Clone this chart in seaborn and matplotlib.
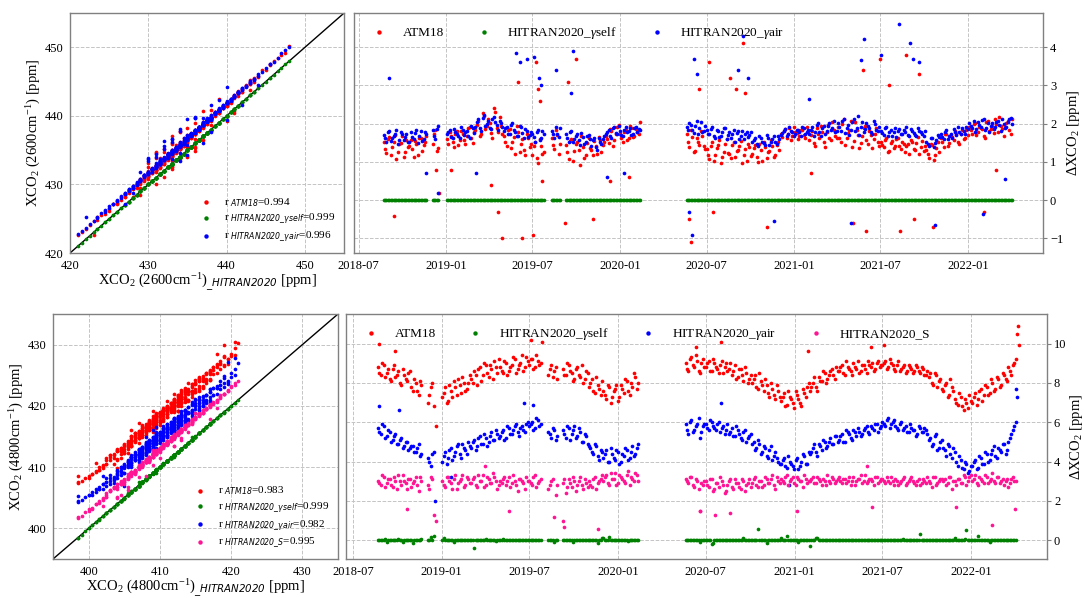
import numpy as np
import pandas as pd
import matplotlib
matplotlib.use("Agg")
import matplotlib.pyplot as plt
import matplotlib.dates as mdates
import seaborn as sns


def arr(s):
    return np.array([float(t) for t in s.split()])


# ====================== data ======================
# observation days, batch A (days since 2018-08-20)
obs_days_a = [2, 8, 14, 20, 26, 32, 38, 44, 50, 56, 62, 68, 74, 80, 86, 92,
              105, 111, 117,
              135, 141, 147, 153, 159, 165, 171, 177, 183, 189, 195, 201, 207, 213, 219, 225, 231, 237,
              243, 249, 255, 261, 267, 273, 279, 285, 291, 297, 303, 309, 315, 321, 327, 333, 339,
              355, 361, 367, 373,
              385, 391, 397, 403, 409, 415, 421, 427, 433, 439, 445, 451, 457, 463, 469, 475, 481, 487,
              493, 499, 505, 511, 517, 523, 529, 535, 541,
              639, 645, 651, 657, 663, 669, 675, 681, 687, 693, 699, 705, 711, 717, 723, 729, 735, 741,
              747, 753, 759, 765, 771, 777, 783, 789, 795, 801, 807, 813, 819, 825, 831, 837, 843, 849,
              855, 861, 867, 873, 879, 885, 891, 897, 903, 909, 915, 921, 927, 933, 939, 945, 951, 957,
              963, 969, 975, 981, 987, 993, 999, 1005, 1011, 1017, 1023, 1029, 1035, 1041, 1047, 1053,
              1059, 1065, 1071, 1077, 1083, 1089, 1095, 1101, 1107, 1113, 1119, 1125, 1131, 1137, 1143,
              1149, 1155, 1161, 1167, 1173, 1179, 1185, 1191, 1197, 1203, 1209, 1215, 1221, 1227, 1233,
              1239, 1245, 1251, 1257, 1263, 1269, 1275, 1281, 1287, 1293, 1299, 1305, 1311, 1317, 1323]
# observation days, batch B
obs_days_b = [5, 11, 17, 23, 29, 35, 41, 47, 53, 59, 65, 71, 77, 83, 89,
              108, 114,
              138, 144, 150, 156, 162, 168, 174, 180, 186, 192, 198, 204, 210, 216, 222, 228, 234, 240,
              246, 252, 258, 264, 270, 276, 282, 288, 294, 300, 306, 312, 318, 324, 330, 336,
              358, 364, 370,
              388, 394, 400, 406, 412, 418, 424, 430, 436, 442, 448, 454, 460, 466, 472, 478, 484, 490,
              496, 502, 508, 514, 520, 526, 532, 538,
              642, 648, 654, 660, 666, 672, 678, 684, 690, 696, 702, 708, 714, 720, 726, 732, 738, 744,
              750, 756, 762, 768, 774, 780, 786, 792, 798, 804, 810, 816, 822, 828, 834, 840, 846, 852,
              858, 864, 870, 876, 882, 888, 894, 900, 906, 912, 918, 924, 930, 936, 942, 948, 954, 960,
              966, 972, 978, 984, 990, 996, 1002, 1008, 1014, 1020, 1026, 1032, 1038, 1044, 1050, 1056,
              1062, 1068, 1074, 1080, 1086, 1092, 1098, 1104, 1110, 1116, 1122, 1128, 1134, 1140, 1146,
              1152, 1158, 1164, 1170, 1176, 1182, 1188, 1194, 1200, 1206, 1212, 1218, 1224, 1230, 1236,
              1242, 1248, 1254, 1260, 1266, 1272, 1278, 1284, 1290, 1296, 1302, 1308, 1314, 1320]

# ---- 2600 cm-1 : XCO2 retrieved with HITRAN2020 [ppm]
xco2_2600_hitran_a = arr("""
422.0 424.5 421.0 425.0 423.5 426.5 424.0 427.0 425.5 428.0 426.0 427.5 429.0 426.5 428.5 430.0
428.0 431.0 429.5
429.0 431.5 428.0 430.5 432.0 429.5 431.0 433.0 430.0 432.5
431.5 434.0 430.5 434.5 432.0 435.5 431.0 433.5 436.5 432.5
435.0 432.0 436.0 431.5 434.0 437.0 432.5 434.5 430.5 433.0
431.0 434.0 429.5 432.5 430.5
429.0 431.5 428.0 430.5
428.5 431.0 427.5 430.0 432.0 428.5 430.5 433.0 429.5
431.5 434.0 430.5 432.5 435.0
433.0 435.5 432.0 434.5 437.0 433.5 436.0 432.5 437.5 435.0 434.0 436.5 438.5
438.0 435.5 439.5 436.5 435.0 437.5 434.0
435.5 433.0 436.5 434.0 431.5 435.0 432.5 431.0 434.0 432.0 434.5 430.5 433.0 430.0 432.0 433.5
432.5 435.0 431.5 434.0 436.0 433.0 434.5 437.0 433.5 435.5
435.0 437.5 434.0 436.5 438.5 435.5 438.0 434.5 437.0 439.5
436.5 439.0 436.0 440.5 437.5 440.0 437.0 441.5 438.5 441.0
439.5 442.0 438.0 440.5 442.5 439.0 441.0 437.5 440.0 441.5 437.0 438.5 440.5 436.0 438.0
436.5 439.0 435.0 437.5 435.5 434.0 436.5 434.5 433.0 436.0 433.5 437.0 435.0 432.5 435.5 434.0
436.0 433.5 437.5 435.0 436.5
438.0 435.5 439.0 436.5 439.5 437.5 440.5 437.0 439.0 441.5
440.0 437.5 441.5 439.0 442.5 440.0 443.5 440.5 442.0 444.5 441.0 443.0 445.0 446.0 447.0 448.0
""")
xco2_2600_hitran_b = arr("""
423.5 421.5 426.0 422.5 425.0 427.5 423.0 426.0 428.5 424.5 427.0 429.5 425.5 428.0 427.0
430.5 427.5
430.0 427.5 432.5 429.0 431.5 428.5 433.5 430.5 432.0 434.0
433.0 430.0 435.0 432.5 437.0 433.5 431.5 436.0 434.0 437.5
433.5 436.5 433.0 435.5 438.0 431.5 435.5 432.0 434.0 431.5
432.5 430.0 433.5 431.0
430.0 432.5 429.5
429.5 427.0 431.5 429.0 433.5 431.0 429.0 431.5 434.0
430.0 433.0 435.5 431.5 433.5
434.0 436.5 431.5 435.5 433.0 438.0 434.5 436.5 433.5 439.0 435.5 437.5
436.5 440.0 434.0 437.5 439.0 433.5 436.0
434.0 437.0 432.0 435.5 433.5 430.5 433.0 434.5 431.0 435.0 433.0 429.0 431.5 434.0 429.5 431.0
434.0 431.0 436.5 433.0 435.0 432.0 436.5 434.5 438.0 432.5
436.5 433.5 439.0 435.5 437.0 440.0 436.5 439.0 433.5 436.0
438.0 435.5 441.0 437.0 439.5 436.0 442.5 439.0 437.5 440.0
441.0 438.5 443.5 439.5 437.0 442.0 440.0 436.5 443.0 438.5 440.0 436.5 439.5 437.5 441.5
438.0 435.5 437.0 433.0 436.5 438.0 432.5 435.0 437.5 434.0 432.0 435.5 436.5 433.5 437.0 432.5
434.5 437.0 432.5 435.5 438.0
436.5 439.5 434.5 437.5 440.5 436.0 438.5 441.0 437.0 440.0
441.5 438.5 443.0 440.5 439.0 444.0 441.5 443.5 442.0 445.5 443.0 444.0 446.5 445.5 447.5
""")

# ---- 2600 cm-1 : dXCO2 = XCO2(other spectroscopy) - XCO2(HITRAN2020) [ppm]
d2600_atm18_a = arr("""
1.52 1.23 1.64 1.38 1.71 1.27 1.49 1.12 1.58 1.41 1.33 1.55 1.18 1.62 1.44 1.69
1.47 1.83 1.36
1.61 1.78 1.52 1.73 1.43 1.81 1.57 1.68 1.92 1.49
1.84 2.08 1.72 2.21 1.93 2.02 1.63 2.31 1.79 1.94
1.68 1.42 1.87 1.53 1.21 1.79 1.48 1.32 1.74 1.39
1.18 1.53 0.97 1.41 1.27
1.62 1.34 1.71 1.48
1.43 1.08 1.61 1.29 1.52 0.93 1.38 1.17 1.63
1.32 1.54 1.21 1.58 1.43
1.68 1.49 1.82 1.57 1.91 1.72 1.53 1.84 1.62 1.88 1.69 1.78 2.03
1.72 1.38 1.64 1.29 1.53 1.81 1.42
1.33 1.08 1.52 1.19 1.43 0.98 1.27 1.61 1.22 1.44 1.12 1.31 1.54 1.17 1.02 1.38
1.21 1.43 0.99 1.32 1.51 1.09 1.28 1.42 1.18 1.53
1.72 1.81 1.63 1.88 1.69 1.79 1.61 1.83 1.71 1.92
1.58 1.82 1.41 1.73 1.93 1.52 1.78 1.62 2.04 1.69
1.91 1.52 2.12 1.63 1.84 1.38 2.03 1.71 1.49 1.89 1.58 1.81 1.37 1.72 1.53
1.52 1.38 1.63 1.29 1.54 1.41 1.62 1.33 1.48 1.42 1.21 1.53 1.31 1.64 1.39 1.28
1.32 1.09 1.43 1.18 1.51
1.62 1.38 1.73 1.49 1.64 1.81 1.52 1.72 1.59 1.83
1.91 1.72 2.02 1.79 1.88 1.68 2.04 1.82 1.93 2.12 1.78 1.94 1.69 2.01 1.83 2.13
""")
d2600_atm18_b = arr("""
1.34 1.61 1.19 1.52 1.08 1.46 1.67 1.25 1.39 1.57 1.14 1.48 1.63 1.29 1.51
1.72 1.28
1.48 1.69 1.38 1.82 1.58 1.74 1.46 1.88 1.63 1.77
1.97 1.68 2.27 1.85 2.13 1.76 2.41 1.89 2.17 1.72
1.51 1.83 1.36 1.66 1.93 1.27 1.59 1.18 1.62 1.47
1.42 1.09 1.61 1.22
1.44 1.83 1.21
1.27 1.54 1.02 1.47 1.31 1.69 1.11 1.49 1.36
1.18 1.42 1.64 1.27 1.51
1.61 1.87 1.42 1.74 1.96 1.63 1.79 1.58 1.93 1.66 1.86 1.74
1.51 1.83 1.27 1.62 1.43 1.68 1.33
1.18 1.42 1.03 1.36 1.57 1.13 1.46 1.24 1.09 1.52 1.28 1.41 0.96 1.34 1.48 1.16
1.36 1.12 1.47 1.03 1.39 1.26 1.58 1.14 1.44 1.31
1.64 1.86 1.73 1.58 1.91 1.76 1.67 1.84 1.62 1.79
1.71 1.49 1.89 1.62 1.77 1.38 1.97 1.56 1.84 1.63
1.62 1.98 1.43 1.76 2.08 1.54 1.83 1.36 1.67 1.94 1.48 1.71 1.59 1.88 1.42
1.43 1.58 1.26 1.49 1.37 1.61 1.42 1.53 1.27 1.46 1.58 1.34 1.49 1.22 1.55 1.41
1.21 1.46 1.04 1.37 1.26
1.53 1.74 1.42 1.68 1.57 1.73 1.48 1.84 1.63 1.71
1.84 1.98 1.71 1.92 1.86 1.62 2.06 1.87 1.76 1.99 2.17 1.86 1.92 2.08 1.74
""")
d2600_yair_a = arr("""
1.71 1.53 1.82 1.62 1.74 1.48 1.79 1.57 1.72 1.51 1.64 1.76 1.49 1.81 1.59 1.73
1.84 1.61 1.93
1.72 1.83 1.63 1.79 1.68 1.91 1.71 1.82 1.62 1.88
1.92 2.13 1.81 2.22 1.98 1.89 2.11 2.03 1.83 2.02
1.81 1.92 1.72 2.01 1.79 1.68 1.91 1.63 1.82 1.71
1.72 1.51 1.83 1.62 1.74
1.81 1.63 1.72 1.88
1.73 1.52 1.81 1.61 1.72 1.43 1.64 1.52 1.71
1.42 1.63 1.31 1.52 1.61
1.72 1.83 1.62 1.91 1.74 1.82 1.69 1.92 1.81 1.71 1.88 1.79 1.83
1.91 2.02 1.83 1.93 1.74 2.04 1.82
1.83 1.72 1.91 1.62 1.81 1.69 1.89 1.61 1.79 1.72 1.53 1.82 1.68 1.59 1.78 1.71
1.52 1.63 1.41 1.62 1.49 1.71 1.43 1.61 1.52 1.69
1.71 1.82 1.69 1.91 1.78 1.72 1.83 1.69 1.88 1.79
1.72 1.91 1.79 2.02 1.68 1.93 1.81 2.01 1.89 1.79
2.02 1.81 2.12 1.89 1.71 2.03 1.82 2.21 1.91 1.79 2.02 1.88 1.72 1.98 1.81
1.82 1.71 1.92 1.79 1.68 1.89 1.81 1.72 1.83 1.91 1.69 1.82 1.71 1.88 1.79 1.69
1.52 1.41 1.63 1.49 1.71
1.72 1.61 1.83 1.69 1.62 1.79 1.91 1.72 1.81 1.92
2.01 1.89 1.79 2.03 1.91 2.12 1.88 1.79 2.02 1.91 2.08 1.82 1.99 1.92 2.11 1.98
""")
d2600_yair_b = arr("""
1.62 1.78 1.54 1.69 1.83 1.58 1.74 1.66 1.52 1.79 1.61 1.84 1.68 1.55 1.77
1.69 1.87
1.78 1.66 1.86 1.74 1.62 1.84 1.77 1.69 1.93 1.76
2.04 1.88 2.16 1.94 2.08 1.86 2.18 1.97 2.06 1.91
1.88 1.74 1.97 1.83 1.69 1.94 1.76 1.87 1.66 1.79
1.64 1.79 1.58 1.81
1.74 1.92 1.66
1.62 1.78 1.51 1.69 1.58 1.76 1.47 1.68 1.59
1.56 1.38 1.62 1.47 1.69
1.78 1.69 1.88 1.76 1.93 1.71 1.84 1.77 1.89 1.74 1.91 1.86
1.84 1.97 1.76 2.08 1.88 1.79 1.94
1.74 1.86 1.68 1.83 1.64 1.77 1.88 1.71 1.63 1.84 1.76 1.59 1.81 1.73 1.66 1.79
1.58 1.47 1.67 1.53 1.44 1.62 1.51 1.68 1.46 1.59
1.76 1.87 1.73 1.81 1.69 1.84 1.78 1.91 1.74 1.83
1.83 1.69 1.96 1.77 1.88 1.74 1.93 1.84 2.06 1.81
1.92 2.07 1.76 1.96 1.84 2.13 1.88 1.71 2.04 1.86 1.94 1.77 2.08 1.83 1.92
1.76 1.88 1.69 1.84 1.78 1.66 1.87 1.74 1.79 1.71 1.86 1.76 1.68 1.82 1.74 1.81
1.46 1.62 1.39 1.57 1.64
1.66 1.78 1.59 1.74 1.86 1.71 1.79 1.88 1.74 1.86
1.94 2.06 1.86 1.97 2.09 1.84 2.02 1.93 1.87 2.04 1.96 2.12 1.89 2.03 2.14
""")
d2600_yself_a = arr("""
0 0 0 0 0 0 0 0 0 0 0 0 0 0 0 0 0 0 0 0
0 0 0 0 0 0 0 0 0 0 0 0 0 0 0 0 0 0 0 0
0 0 0 0 0 0 0 0 0 0 0 0 0 0 0 0 0 0 0 0
0 0 0 0 0 0 0 0 0 0 0 0 0 0 0 0 0 0 0 0
0 0 0 0 0 0 0 0 0 0 0 0 0 0 0 0 0 0 0 0
0 0 0 0 0 0 0 0 0 0 0 0 0 0 0 0 0 0 0 0
0 0 0 0 0 0 0 0 0 0 0 0 0 0 0 0 0 0 0 0
0 0 0 0 0 0 0 0 0 0 0 0 0 0 0 0 0 0 0 0
0 0 0 0 0 0 0 0 0 0 0 0 0 0 0 0 0 0 0 0
0 0 0 0 0 0 0 0 0 0 0 0 0 0 0 0 0 0 0 0
""")
d2600_yself_b = arr("""
0 0 0 0 0 0 0 0 0 0 0 0 0 0 0 0 0 0 0 0
0 0 0 0 0 0 0 0 0 0 0 0 0 0 0 0 0 0 0 0
0 0 0 0 0 0 0 0 0 0 0 0 0 0 0 0 0 0 0 0
0 0 0 0 0 0 0 0 0 0 0 0 0 0 0 0 0 0 0 0
0 0 0 0 0 0 0 0 0 0 0 0 0 0 0 0 0 0 0 0
0 0 0 0 0 0 0 0 0 0 0 0 0 0 0 0 0 0 0 0
0 0 0 0 0 0 0 0 0 0 0 0 0 0 0 0 0 0 0 0
0 0 0 0 0 0 0 0 0 0 0 0 0 0 0 0 0 0 0 0
0 0 0 0 0 0 0 0 0 0 0 0 0 0 0 0 0 0 0 0
0 0 0 0 0 0 0 0 0 0 0 0 0 0
""")

# ---- 2600 cm-1 outliers (date, dXCO2, XCO2 HITRAN2020)
out2600_atm18_dates = ["2018-09-12", "2018-12-10", "2018-12-16", "2019-01-10", "2019-04-05", "2019-04-20",
                       "2019-04-28", "2019-06-01", "2019-06-10", "2019-07-02", "2019-07-08", "2019-07-12",
                       "2019-07-16", "2019-07-20", "2019-09-08", "2019-09-14", "2019-10-01", "2019-11-05",
                       "2019-12-10", "2020-01-20", "2020-05-25", "2020-05-29", "2020-06-15", "2020-07-05",
                       "2020-07-15", "2020-08-20", "2020-09-01", "2020-09-15", "2020-09-20", "2020-11-05",
                       "2021-02-05", "2021-05-05", "2021-05-25", "2021-06-01", "2021-07-01", "2021-07-20",
                       "2021-08-12", "2021-08-25", "2021-09-10", "2021-09-20", "2021-10-20", "2022-02-05",
                       "2022-03-01"]
out2600_atm18 = [-0.4, 0.8, 0.2, 0.8, 0.4, -0.3, -1.0, 3.1, -1.0, -0.9, 3.6, 2.9, 2.6, 0.5, -0.6, 3.1,
                 3.7, -0.5, 0.5, 0.6, -0.5, -1.1, 2.9, 3.6, -0.3, 3.2, 2.9, 4.1, 2.8, -0.7, 0.7, -0.6,
                 3.4, -0.8, 3.7, 3.0, -0.8, 3.8, -0.5, 3.3, -0.7, -0.3, 0.8]
out2600_atm18_base = [423, 430, 428, 431, 433, 434, 435, 433, 431, 432, 431, 433, 430, 429, 429, 430,
                      431, 433, 435, 436, 437, 436, 438, 434, 433, 432, 431, 433, 432, 433, 438, 441,
                      439, 440, 437, 436, 435, 434, 436, 435, 436, 441, 443]
out2600_yair_dates = ["2018-09-02", "2018-11-20", "2018-12-15", "2019-03-05", "2019-05-28", "2019-06-05",
                      "2019-06-20", "2019-07-05", "2019-07-14", "2019-07-18", "2019-08-20", "2019-09-20",
                      "2019-09-25", "2019-12-05", "2020-01-10", "2020-05-25", "2020-05-31", "2020-06-05",
                      "2020-06-10", "2020-09-05", "2020-09-15", "2020-09-25", "2020-11-20", "2021-02-01",
                      "2021-05-01", "2021-05-22", "2021-05-28", "2021-07-03", "2021-08-10", "2021-09-01",
                      "2021-09-08", "2021-09-20", "2021-10-25", "2022-02-02", "2022-03-20"]
out2600_yair = [3.2, 0.7, 0.2, 0.7, 3.85, 3.6, 3.7, 3.75, 3.2, 3.0, 3.4, 2.8, 3.9, 0.6, 0.7, -0.3, -0.9,
                3.7, 3.3, 3.4, 4.3, 3.2, -0.55, 2.65, -0.6, 3.65, 4.2, 3.8, 4.6, 4.1, 3.7, 3.6, -0.65,
                -0.35, 0.55]
out2600_yair_base = [422, 428, 427, 433, 434, 432, 433, 430, 432, 431, 430, 429, 430, 434, 435, 438, 437,
                     436, 439, 431, 432, 433, 434, 437, 440, 438, 440, 436, 435, 434, 436, 433, 435,
                     442, 444]

# ---- 4800 cm-1 : XCO2 retrieved with HITRAN2020 [ppm]
xco2_4800_hitran_a = arr("""
399.0 400.5 398.5 401.5 400.0 402.5 401.0 403.5 402.0 404.5 401.5 403.0 405.0 402.5 404.0 406.0
404.5 407.0 405.5
405.0 407.5 404.0 406.5 408.0 405.5 407.0 409.0 406.0 408.5
407.5 409.5 406.5 410.0 408.0 411.0 407.0 409.0 412.0 408.5
410.5 408.0 411.5 407.5 409.5 412.5 408.5 410.0 406.5 409.0
407.0 409.5 405.5 408.0 406.5
405.0 407.5 404.0 406.0
404.5 406.5 403.0 405.5 407.5 404.0 406.0 408.5 405.0
407.0 409.5 406.0 408.0 410.5
408.5 411.0 407.5 410.0 412.5 409.0 411.5 408.0 413.0 410.5 409.5 412.0 414.0
413.5 411.0 415.0 412.0 410.5 413.0 409.5
411.0 408.5 412.0 409.5 407.0 410.5 408.0 406.5 409.5 407.5 410.0 406.0 408.5 405.5 407.5 409.0
408.0 410.5 407.0 409.5 411.5 408.5 410.0 412.5 409.0 411.0
410.5 413.0 409.5 412.0 414.0 411.0 413.5 410.0 412.5 415.0
412.0 414.5 411.5 416.0 413.0 415.5 412.5 417.0 414.0 416.5
415.0 417.5 413.5 416.0 418.0 414.5 416.5 413.0 415.5 417.0 412.5 414.0 416.0 411.5 413.5
412.0 414.5 410.5 413.0 411.0 409.5 412.0 410.0 408.5 411.5 409.0 412.5 410.5 408.0 411.0 409.5
411.5 409.0 413.0 410.5 412.0
413.5 411.0 414.5 412.0 415.0 413.0 416.0 412.5 414.5 417.0
415.5 413.0 417.0 414.5 418.0 415.5 419.0 416.0 417.5 420.0 416.5 418.5 419.5 417.0 420.5 421.0
""")
xco2_4800_hitran_b = arr("""
400.0 398.5 402.0 399.5 401.5 403.0 400.5 402.5 404.0 401.0 403.5 405.5 402.0 404.5 403.0
406.0 403.5
406.0 403.5 408.5 405.0 407.5 404.5 409.5 406.5 408.0 410.0
409.0 406.0 411.0 408.5 412.5 409.5 407.5 411.5 410.0 413.0
409.0 412.0 408.5 411.0 413.5 407.0 410.5 407.5 409.5 406.0
408.5 406.0 409.5 407.0
406.5 408.5 405.0
405.5 402.5 407.0 404.5 408.5 406.0 404.0 407.0 409.0
405.5 408.5 411.0 407.0 409.0
409.5 412.0 407.0 411.0 408.5 413.5 410.0 412.0 409.0 414.5 411.0 413.0
412.0 415.5 410.0 413.5 414.5 409.0 411.5
410.0 413.0 407.5 411.0 409.0 406.0 408.5 410.5 406.5 410.5 408.5 404.5 407.0 410.0 405.0 406.5
409.5 406.5 412.0 408.5 410.5 407.5 412.0 410.0 413.5 408.0
412.0 409.0 414.5 411.0 412.5 415.5 412.0 414.5 409.0 411.5
413.5 411.0 416.5 412.5 415.0 411.5 418.0 414.5 413.0 415.5
416.5 414.0 419.0 415.0 412.5 417.5 415.5 412.0 418.5 414.0 415.5 412.0 415.0 413.0 417.0
413.5 411.0 412.5 408.5 412.0 413.5 408.0 410.5 413.0 409.5 407.5 411.0 412.0 409.0 412.5 408.0
410.0 412.5 408.0 411.0 413.5
412.0 415.0 410.0 413.0 416.0 411.5 414.0 416.5 412.5 415.5
417.0 414.0 418.5 416.0 414.5 419.5 417.0 419.0 417.5 420.5 418.5 419.5 418.0 420.0 419.0
""")

d4800_atm18_a = arr("""
8.8 8.4 8.9 8.5 8.2 8.7 8.3 8.6 7.9 8.4 8.1 8.6 7.6 8.0 7.4 7.9
7.0 7.8 6.8
7.3 7.8 7.1 7.6 8.1 7.4 7.9 8.3 7.6 8.0
8.2 8.6 7.9 8.8 8.4 8.9 8.3 8.7 9.1 8.5
8.8 8.5 9.0 8.6 8.9 9.2 8.7 9.0 8.6 9.3
8.9 9.2 8.8 9.1 9.0
8.4 8.9 8.6 8.2
8.7 8.4 8.9 8.5 8.2 8.8 8.3 8.0 8.6
7.8 8.2 7.5 7.9 7.4
7.6 7.2 7.8 7.3 7.7 7.1 7.9 7.5 8.1 7.4 7.8 8.3 8.0
9.0 8.6 9.3 8.8 9.1 8.5 9.2
8.8 9.1 8.6 9.0 8.7 8.9 8.5 9.0 8.7 8.4 8.9 8.3 8.7 8.1 8.5 8.2
8.0 8.4 7.7 8.1 7.6 7.9 7.3 7.7 7.2 7.6
7.1 7.5 6.9 7.3 7.0 7.6 7.2 6.8 7.5 7.8
7.6 8.0 7.8 8.3 8.1 8.5 8.2 8.6 8.4 8.8
8.6 8.9 8.4 8.8 8.6 9.0 8.7 8.5 8.9 8.7 9.1 8.8 8.6 9.0 8.8
8.9 9.1 8.8 9.0 8.7 8.9 8.6 8.8 8.5 8.9 8.7 8.6 8.8 8.5 8.7 8.4
8.3 8.0 8.5 7.8 8.2
7.6 8.0 7.4 7.8 7.2 6.9 7.3 6.6 7.0 7.4
7.0 7.5 7.2 7.7 7.4 7.8 7.5 8.0 7.7 8.2 7.9 8.4 8.1 8.6 8.9 9.2
""")
d4800_atm18_b = arr("""
8.5 9.0 8.3 8.7 8.1 8.9 8.4 8.0 8.7 8.2 8.5 7.8 8.2 7.6 8.1
7.4 8.0
7.5 7.0 7.9 7.3 7.8 8.2 7.5 8.0 7.7 8.4
8.0 8.4 8.7 8.1 9.0 8.5 8.9 8.2 8.8 9.2
8.6 9.1 8.4 8.8 9.3 8.5 8.9 9.4 8.8 9.1
9.2 8.7 9.4 8.9
8.7 8.3 8.8
8.4 9.0 8.6 8.1 8.7 8.4 8.9 8.2 8.5
8.0 7.6 8.3 7.7 8.1
7.4 7.9 7.0 7.6 7.9 7.3 7.7 8.2 7.6 8.0 8.5 7.7
8.7 9.2 8.9 9.4 8.6 9.0 8.8
9.0 8.6 9.2 8.8 8.5 9.1 8.8 8.6 9.0 8.6 8.2 8.7 8.4 8.8 8.0 8.4
8.2 7.8 8.5 7.9 8.2 7.5 8.0 7.4 7.9 7.3
7.3 6.8 7.6 7.2 6.7 7.4 7.0 7.7 7.3 8.0
7.8 8.3 7.6 8.1 8.6 8.0 8.4 8.7 8.2 8.6
8.8 8.5 9.1 8.7 8.4 8.8 9.1 8.6 8.9 8.5 8.9 9.0 8.7 9.1 8.9
9.0 8.7 9.2 8.9 8.6 9.1 8.7 8.9 8.6 8.8 8.5 8.9 8.6 8.8 8.4 8.6
8.5 7.9 8.4 8.1 7.7
7.9 7.3 8.2 7.6 7.0 7.5 6.8 7.2 6.7 7.1
7.3 6.9 7.6 7.1 7.9 7.4 8.2 7.6 8.3 7.8 8.5 8.2 8.8 8.4 9.0
""")
d4800_yair_a = arr("""
5.7 5.4 5.8 5.3 5.5 5.1 5.4 4.9 5.2 4.8 5.0 4.7 4.8 4.5 4.9 4.4
4.2 3.8 4.5
4.0 4.5 4.2 4.7 4.3 4.8 4.4 4.9 4.6 5.0
4.7 5.1 4.8 5.3 4.9 5.2 5.0 5.5 5.1 5.4
5.3 5.6 5.2 5.7 5.4 5.8 5.5 5.7 5.6 5.9
5.8 6.0 5.7 6.1 5.9
5.5 5.2 5.6 5.3
5.6 5.2 5.7 5.4 5.8 5.3 5.5 5.0 5.3
4.8 4.5 4.9 4.3 4.6
4.2 4.6 4.0 4.4 4.1 4.5 4.0 4.3 4.6 4.2 4.8 4.4 4.9
5.9 5.4 6.1 5.6 5.9 5.2 5.8
5.9 5.6 6.0 5.7 5.9 5.5 5.8 5.6 5.4 5.7 5.3 5.6 5.2 5.5 5.0 5.3
4.9 4.6 5.1 4.4 4.8 4.3 4.6 4.1 4.5 4.0
3.9 4.2 3.7 4.0 3.8 4.1 3.6 4.0 4.3 3.9
4.4 4.7 4.5 4.9 4.6 5.0 4.8 5.2 4.9 5.3
5.1 5.4 5.0 5.5 5.2 5.6 5.3 5.5 5.4 5.7 5.5 5.8 5.6 5.9 5.7
6.0 5.8 6.2 5.9 6.1 5.7 5.9 5.6 5.8 5.5 5.7 5.6 5.4 5.7 5.5 5.6
5.1 4.8 5.3 4.6 5.0
4.7 4.3 4.8 4.2 4.5 3.8 4.1 3.6 3.9 3.5
3.8 4.1 3.7 4.2 3.9 4.4 4.1 4.6 4.3 4.7 4.5 4.9 4.6 5.2 5.6 6.0
""")
d4800_yair_b = arr("""
5.5 5.9 5.2 5.6 5.0 5.3 4.9 5.1 4.7 5.0 4.6 4.8 4.5 4.7 4.3
4.0 4.4
4.3 3.9 4.6 4.1 4.5 4.9 4.2 4.7 4.4 4.8
5.0 4.6 5.2 4.9 5.4 4.8 5.3 5.1 5.6 5.2
5.5 5.1 5.8 5.4 5.6 5.9 5.3 5.8 5.5 6.0
5.9 5.6 6.2 5.8
5.4 5.7 5.1
5.4 5.8 5.1 5.6 5.2 5.7 5.0 5.4 4.9
4.7 4.4 4.8 4.1 4.5
4.4 4.0 4.7 4.2 4.6 3.9 4.4 4.7 4.1 4.5 4.3 4.7
5.6 6.0 5.5 5.8 6.2 5.5 5.9
5.7 6.1 5.8 5.6 6.0 5.7 5.4 5.9 5.5 5.3 5.8 5.4 5.1 5.6 5.2 5.4
5.0 4.7 4.9 4.5 4.7 4.2 4.8 4.3 4.2 3.9
4.1 3.8 4.3 3.9 3.6 4.2 3.8 4.4 3.9 4.5
4.5 4.9 4.3 4.8 5.1 4.7 5.0 4.9 5.3 5.0
5.3 5.0 5.6 5.4 5.1 5.5 5.7 5.3 5.6 5.8 5.4 5.7 5.9 5.5 5.8
5.9 6.1 5.7 6.0 5.8 5.6 6.0 5.7 5.5 5.9 5.6 5.3 5.8 5.5 5.7 5.4
5.2 4.9 5.4 4.7 5.1
4.6 4.9 4.4 4.7 4.0 4.3 3.7 4.0 3.4 3.8
4.0 3.6 4.3 3.9 4.5 4.0 4.4 4.8 4.2 4.6 4.9 4.4 5.0 5.4 5.8
""")
d4800_S_a = arr("""
3.0 2.8 3.2 2.9 3.1 2.7 3.0 3.3 2.8 3.0 2.6 3.1 2.9 3.2 2.5 3.0
2.8 3.2 1.3
3.0 2.7 3.2 2.9 3.1 2.6 3.0 3.3 2.8 3.1
2.9 3.2 2.7 3.0 3.3 2.8 3.1 2.9 3.2 2.6
3.0 3.1 2.8 3.2 2.9 3.0 2.5 3.1 2.9 3.2
3.0 2.8 3.3 2.9 3.1
2.6 3.0 1.2 2.8
2.9 2.4 3.1 2.7 3.0 2.8 3.2 2.6 2.9
3.0 2.7 3.2 2.9 3.1
3.0 3.3 2.8 3.1 3.4 2.9 3.2 3.0 3.3 2.8 3.1 3.4 3.0
3.1 2.9 3.2 2.7 3.0 1.5 2.8
3.0 2.7 3.1 2.6 2.9 3.2 2.8 2.5 3.0 2.7 3.1 2.9 2.6 3.0 2.8 3.1
2.9 3.2 2.7 3.0 2.8 3.1 2.9 3.3 2.6 3.0
3.1 2.9 3.3 3.0 3.2 2.8 3.1 3.0 3.3 2.9
3.0 3.2 2.9 3.1 2.8 3.0 3.3 2.9 3.1 3.0
3.2 2.9 3.1 3.0 2.8 3.2 3.0 3.1 2.9 3.3 3.0 3.1 2.8 3.2 3.0
3.1 2.9 3.0 3.2 2.8 3.0 2.9 3.1 2.8 3.0 3.2 2.9 3.0 2.8 3.1 2.9
3.0 2.7 3.2 2.9 3.1
3.0 2.8 3.2 2.6 3.0 3.1 2.9 3.3 2.8 3.2
3.0 3.3 2.8 3.1 2.9 3.2 3.0 3.4 2.9 3.2 3.0 2.8 3.1 2.9 3.2 3.0
""")
d4800_S_b = arr("""
2.9 3.3 2.7 3.1 2.8 3.2 2.6 3.0 3.3 2.9 3.1 2.7 3.0 2.8 3.2
2.6 3.1
2.8 3.2 3.0 2.6 3.3 2.9 3.1 2.7 3.2 2.9
3.1 2.8 3.3 3.0 2.7 3.2 2.9 3.4 3.0 2.8
2.9 3.2 3.0 2.7 3.3 2.8 3.1 3.0 2.6 3.0
2.9 3.2 2.7 3.0
2.8 3.1 2.3
3.1 2.7 2.9 3.2 2.5 3.0 2.8 3.1 2.7
2.8 3.1 2.6 3.0 3.3
3.2 2.9 3.4 3.1 2.8 3.3 3.1 2.9 3.5 3.2 3.0 3.3
3.0 3.2 2.8 3.1 2.6 2.9 3.0
2.8 3.1 2.5 2.9 2.7 3.0 2.4 2.8 3.1 2.6 2.9 2.7 3.1 2.5 2.9 2.7
3.1 2.8 3.0 2.7 3.2 2.9 3.1 2.8 3.2 2.9
3.0 3.2 2.8 3.1 2.9 3.2 3.0 2.7 3.1 3.0
3.1 2.9 3.2 3.0 3.1 2.8 3.0 3.2 2.9 3.1
3.0 3.1 2.9 3.2 3.0 2.8 3.1 3.3 3.0 2.9 3.1 3.0 3.2 2.9 3.1
3.0 3.2 2.9 3.0 3.1 2.8 3.0 3.2 2.9 3.1 3.0 2.8 3.1 2.9 3.0 3.2
2.9 3.2 2.8 3.0 3.1
3.1 2.9 3.2 3.0 2.8 3.1 2.9 3.2 3.0 3.3
3.1 2.9 3.2 3.0 3.3 2.9 3.1 3.0 3.2 2.9 3.1 3.0 2.7 3.1 3.0
""")
d4800_yself_a = arr("""
0 0 0 -0.1 0 0 0 0.05 0 0 0 0 -0.15 0 0 0.05 0 0.15 0.2 0
0 0 0 -0.1 0 0 0 0 0 0 -0.4 0 0 0 0.05 0 0 0 0 0
0.05 0 0 0 0 0 0 0 0 0 0 0 0 0 0 0 -0.1 0 0 0
0 0 0 0 0 0 0 0 0 0 -0.15 0 0.1 0 0.15 0 0 0 0 0
0 0 0 0 0 0 0 0 0 0 -0.1 0 0 0 -0.2 0 0 0 0 0
0 0 0 0 0 0.1 0 0 0 0 0.6 0 0 -0.15 0 0 0 0 0.1 0
0.2 0 0 0 -0.1 0 0 0 -0.3 0 0.1 0 0 0 0 0 0 0 0 0
0 0 0 0 0 0 0 0 0 0 0 0 0 0 0 0 0 0 0 0
0.05 0 0 0 0 0 0.3 0 0 0 0 0 0 0 0 0 0 0 0.1 0
0 0 0.5 0 0 0 0.2 0 0 0 -0.1 0 0 0 0 0 0 0 0 0
""")
d4800_yself_b = arr("""
0 0 0.05 0 0 0 0 0 -0.1 0 0 0 0 0 0 0 0 0.1 0 0
0 0 0 0 0 0 0 0 0 0 0 0 0 0 0 -0.05 0 0 0 0
0 0 0 0 0 0 0 0 0 0 0 0 0 0 0 0 0 -0.1 0 0
0 0 0 0 0 0 0 0.1 0 0 0 0 0 0 0 0 -0.05 0 0 0
0 0 0 0 0 0 0 0 0 -0.15 0 0 0 0 0 0 0 0 0 0
0 0 0 0 0 0 0 0 0 0 0 0 0 0 0 0 0 0 0 0
0 0 0 0 0 0.1 0 0 0 0 0 0 0 0 0 0 0 0 0 0
0 0 0 0 0 0 0 0 0 0 0 0 0 0 0 0 0 0 0 0
0 0 0 0 0 0 0 0 0 0 0 0 0 0 0 0 0.05 0 0 0
0 0 0 0 0 0 0 0 0 0 0 0 0 0
""")

out4800_atm18_dates = ["2018-08-24", "2018-09-26", "2018-12-20", "2019-07-05", "2019-07-27", "2020-06-10",
                       "2020-08-01", "2021-01-28", "2021-06-08", "2021-07-05", "2022-04-06", "2022-04-08",
                       "2022-04-10"]
out4800_atm18 = [10.0, 9.6, 5.8, 10.2, 10.1, 9.8, 10.1, 9.6, 9.8, 9.9, 10.5, 10.9, 9.9]
out4800_atm18_base = [398.5, 401.0, 404.0, 407.0, 406.0, 411.0, 409.0, 413.0, 414.0, 412.0, 418.0, 419.0, 420.5]
out4800_yair_dates = ["2018-08-24", "2018-10-05", "2018-12-18", "2019-01-20", "2019-06-20", "2019-07-10",
                      "2020-08-01", "2020-12-20", "2022-04-05", "2022-04-07"]
out4800_yair = [6.8, 6.6, 2.0, 3.2, 7.0, 6.9, 7.0, 2.8, 7.7, 7.3]
out4800_yair_base = [398.5, 402.0, 405.0, 406.0, 409.5, 408.0, 409.0, 411.0, 419.5, 420.5]
out4800_S_dates = ["2018-10-20", "2018-12-20", "2019-04-01", "2019-05-20", "2019-09-10", "2019-09-12",
                   "2019-11-20", "2020-06-20", "2020-07-20", "2020-08-20", "2021-01-05", "2021-06-01",
                   "2021-06-10", "2021-12-01", "2022-02-15", "2022-04-02"]
out4800_S = [1.6, 1.0, 3.8, 1.5, 1.0, 0.7, 0.6, 1.5, 1.3, 1.4, 1.5, 3.8, 1.7, 1.7, 0.8, 1.6]
out4800_S_base = [402.0, 404.5, 409.0, 410.0, 404.0, 405.5, 408.0, 412.0, 409.0, 407.0, 412.0, 415.0,
                  413.0, 414.0, 417.0, 418.0]

r_2600 = [0.994, 0.999, 0.996]
r_4800 = [0.983, 0.999, 0.982, 0.995]

# ---- combine batches
obs_days = np.r_[obs_days_a, obs_days_b]
xco2_2600_hitran = np.r_[xco2_2600_hitran_a, xco2_2600_hitran_b]
d2600_atm18 = np.r_[d2600_atm18_a, d2600_atm18_b]
d2600_yair = np.r_[d2600_yair_a, d2600_yair_b]
d2600_yself = np.r_[d2600_yself_a, d2600_yself_b]
xco2_4800_hitran = np.r_[xco2_4800_hitran_a, xco2_4800_hitran_b]
d4800_atm18 = np.r_[d4800_atm18_a, d4800_atm18_b]
d4800_yair = np.r_[d4800_yair_a, d4800_yair_b]
d4800_S = np.r_[d4800_S_a, d4800_S_b]
d4800_yself = np.r_[d4800_yself_a, d4800_yself_b]

for name, a in [("x2600", xco2_2600_hitran), ("atm2600", d2600_atm18), ("air2600", d2600_yair),
                ("self2600", d2600_yself), ("x4800", xco2_4800_hitran), ("atm4800", d4800_atm18),
                ("air4800", d4800_yair), ("S4800", d4800_S), ("self4800", d4800_yself)]:
    if len(a) != len(obs_days):
        raise ValueError(f"{name}: {len(a)} != {len(obs_days)}")

# ====================== style ======================
sns.set_theme(style="whitegrid")
plt.rcParams['font.family'] = ['Liberation Serif', 'DejaVu Sans']
plt.rcParams.update({
    'mathtext.fontset': 'custom',
    'mathtext.rm': 'Liberation Serif',
    'mathtext.it': 'Liberation Serif:italic',
    'mathtext.bf': 'Liberation Serif:bold',
    'mathtext.sf': 'DejaVu Sans:italic',
    'axes.edgecolor': '#808080',
    'axes.linewidth': 1.0,
    'grid.color': '#c4c4c4',
    'grid.linestyle': '--',
    'grid.linewidth': 0.7,
    'xtick.color': 'black', 'ytick.color': 'black',
    'axes.labelcolor': 'black', 'text.color': 'black',
})

RED, GREEN, BLUE, PINK = '#ff0000', '#008000', '#0000ff', '#ff1493'
MS = 7

base_date = pd.Timestamp("2018-08-20")
dates = (base_date + pd.to_timedelta(obs_days, unit="D")).values


def todate(lst):
    return pd.to_datetime(lst).values


def pts(ax, x, y, color, label=None):
    sns.scatterplot(x=np.asarray(x), y=np.asarray(y), ax=ax, color=color, s=MS, linewidth=0,
                    label=label if label else '_nolegend_', zorder=3)


fig = plt.figure(figsize=(10.84, 5.98), dpi=100)
ax_tl = fig.add_axes([0.0646, 0.5769, 0.2528, 0.4013])
ax_tr = fig.add_axes([0.3266, 0.5769, 0.6356, 0.4013])
ax_bl = fig.add_axes([0.0489, 0.0652, 0.2629, 0.4097])
ax_br = fig.add_axes([0.3189, 0.0652, 0.6470, 0.4097])

# ---------- top left scatter ----------
ax = ax_tl
ax.axline((420, 420), slope=1, color='black', lw=1.0, zorder=2)
pts(ax, np.r_[xco2_2600_hitran, out2600_atm18_base],
    np.r_[xco2_2600_hitran + d2600_atm18, np.array(out2600_atm18_base) + np.array(out2600_atm18)],
    RED, r'r $_{\mathsf{ATM18}}$=%.3f' % r_2600[0])
pts(ax, xco2_2600_hitran, xco2_2600_hitran + d2600_yself, GREEN,
    r'r $_{\mathsf{HITRAN2020\_\gamma self}}$=%.3f' % r_2600[1])
pts(ax, np.r_[xco2_2600_hitran, out2600_yair_base],
    np.r_[xco2_2600_hitran + d2600_yair, np.array(out2600_yair_base) + np.array(out2600_yair)],
    BLUE, r'r $_{\mathsf{HITRAN2020\_\gamma air}}$=%.3f' % r_2600[2])
ax.set_xlim(420, 455)
ax.set_ylim(420, 455)
ax.set_xticks([420, 430, 440, 450])
ax.set_yticks([420, 430, 440, 450])
ax.set_xlabel(r'XCO$_2$ (2600cm$^{-1}$)$_{\mathsf{\_HITRAN2020}}$ [ppm]', fontsize=10.5, labelpad=0)
ax.set_ylabel(r'XCO$_2$ (2600cm$^{-1}$) [ppm]', fontsize=10.5, labelpad=1)
ax.legend(loc='lower right', frameon=False, fontsize=8, handletextpad=0.6, labelspacing=0.3,
          borderaxespad=0.4, markerscale=1.2)

# ---------- bottom left scatter ----------
ax = ax_bl
ax.axline((395, 395), slope=1, color='black', lw=1.0, zorder=2)
pts(ax, np.r_[xco2_4800_hitran, out4800_atm18_base],
    np.r_[xco2_4800_hitran + d4800_atm18, np.array(out4800_atm18_base) + np.array(out4800_atm18)],
    RED, r'r $_{\mathsf{ATM18}}$=%.3f' % r_4800[0])
pts(ax, xco2_4800_hitran, xco2_4800_hitran + d4800_yself, GREEN,
    r'r $_{\mathsf{HITRAN2020\_\gamma self}}$=%.3f' % r_4800[1])
pts(ax, np.r_[xco2_4800_hitran, out4800_yair_base],
    np.r_[xco2_4800_hitran + d4800_yair, np.array(out4800_yair_base) + np.array(out4800_yair)],
    BLUE, r'r $_{\mathsf{HITRAN2020\_\gamma air}}$=%.3f' % r_4800[2])
pts(ax, np.r_[xco2_4800_hitran, out4800_S_base],
    np.r_[xco2_4800_hitran + d4800_S, np.array(out4800_S_base) + np.array(out4800_S)],
    PINK, r'r $_{\mathsf{HITRAN2020\_S}}$=%.3f' % r_4800[3])
ax.set_xlim(395, 435)
ax.set_ylim(395, 435)
ax.set_xticks([400, 410, 420, 430])
ax.set_yticks([400, 410, 420, 430])
ax.set_xlabel(r'XCO$_2$ (4800cm$^{-1}$)$_{\mathsf{\_HITRAN2020}}$ [ppm]', fontsize=10.5, labelpad=0)
ax.set_ylabel(r'XCO$_2$ (4800cm$^{-1}$) [ppm]', fontsize=10.5, labelpad=1)
ax.legend(loc='lower right', frameon=False, fontsize=8, handletextpad=0.6, labelspacing=0.3,
          borderaxespad=0.4, markerscale=1.2)

# ---------- top right time series ----------
ax = ax_tr
pts(ax, np.r_[dates, todate(out2600_atm18_dates)], np.r_[d2600_atm18, out2600_atm18], RED, 'ATM18')
pts(ax, dates, d2600_yself, GREEN, r'HITRAN2020_$\gamma$self')
pts(ax, np.r_[dates, todate(out2600_yair_dates)], np.r_[d2600_yair, out2600_yair], BLUE,
    r'HITRAN2020_$\gamma$air')
ax.set_ylim(-1.38, 4.89)
ax.set_yticks([-1, 0, 1, 2, 3, 4])
ax.set_xlim(pd.Timestamp("2018-06-21"), pd.Timestamp("2022-06-08"))

# ---------- bottom right time series ----------
ax = ax_br
pts(ax, np.r_[dates, todate(out4800_atm18_dates)], np.r_[d4800_atm18, out4800_atm18], RED, 'ATM18')
pts(ax, dates, d4800_yself, GREEN, r'HITRAN2020_$\gamma$self')
pts(ax, np.r_[dates, todate(out4800_yair_dates)], np.r_[d4800_yair, out4800_yair], BLUE,
    r'HITRAN2020_$\gamma$air')
pts(ax, np.r_[dates, todate(out4800_S_dates)], np.r_[d4800_S, out4800_S], PINK, 'HITRAN2020_S')
ax.set_ylim(-0.95, 11.5)
ax.set_yticks([0, 2, 4, 6, 8, 10])
ax.set_xlim(pd.Timestamp("2018-06-16"), pd.Timestamp("2022-06-08"))

for ax, nc in [(ax_tr, 3), (ax_br, 4)]:
    ax.yaxis.tick_right()
    ax.yaxis.set_label_position('right')
    ax.set_ylabel(r'$\Delta$XCO$_2$ [ppm]', fontsize=10.5, labelpad=1)
    ax.xaxis.set_major_locator(mdates.MonthLocator(bymonth=[1, 7]))
    ax.xaxis.set_major_formatter(mdates.DateFormatter('%Y-%m'))
    ax.set_xlabel('')
    ax.legend(loc='upper left', ncol=nc, frameon=False, fontsize=9.5, handletextpad=0.8,
              columnspacing=2.0, markerscale=1.2)

for ax in [ax_tl, ax_tr, ax_bl, ax_br]:
    ax.tick_params(labelsize=9, pad=2, length=3, width=0.8, color='#808080')
    for sp in ax.spines.values():
        sp.set_color('#808080')
        sp.set_linewidth(1.0)

fig.savefig('out.png', dpi=100)
